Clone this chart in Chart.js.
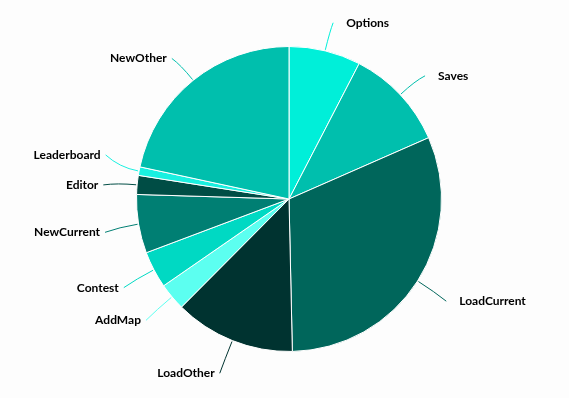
<!DOCTYPE html>
<html>
<head>
<meta charset="utf-8">
<script src="https://cdn.jsdelivr.net/npm/chart.js@4/dist/chart.umd.min.js"></script>
<style>
  html, body { margin: 0; padding: 0; background: #fdfdfd; }
  #wrap { width: 569px; height: 398px; position: relative; }
</style>
</head>
<body>
<div id="wrap"><canvas id="pieChart"></canvas></div>
<script>
// slices, clockwise from 12 o'clock
const categories = ["Options", "Saves", "LoadCurrent", "LoadOther", "AddMap", "Contest", "NewCurrent", "Editor", "Leaderboard", "NewOther"];
const values = [76, 108, 312, 128, 29, 39, 62, 20, 9, 216];
const colors = ["#00efd9", "#00bfad", "#00665b", "#003330", "#5cfff0", "#00d9c3", "#007f73", "#004d45", "#1af0e0", "#00bfad"];

// labels outside with curved leader lines (amCharts look)
const outLabels = {
  id: "outLabels",
  afterDatasetsDraw(chart) {
    const ctx = chart.ctx;
    const meta = chart.getDatasetMeta(0);
    const gap = 30; // min vertical distance between labels on a side
    let items = meta.data.map((arc, i) => {
      const mid = (arc.startAngle + arc.endAngle) / 2;
      const r = arc.outerRadius;
      return {
        i: i, arc: arc, mid: mid,
        right: Math.cos(mid) >= 0,
        y: arc.y + 3 + Math.sin(mid) * (r + 32)
      };
    });
    // push overlapping labels apart (upwards), per side
    [true, false].forEach(side => {
      const list = items.filter(it => it.right === side).sort((a, b) => b.y - a.y);
      for (let k = 1; k < list.length; k++) {
        if (list[k - 1].y - list[k].y < gap) list[k].y = list[k - 1].y - gap;
      }
    });

    ctx.save();
    ctx.font = "bold 12px Lato";
    ctx.textBaseline = "middle";
    items.forEach(it => {
      const arc = it.arc, r = arc.outerRadius;
      const cos = Math.cos(it.mid), sin = Math.sin(it.mid);
      const x0 = arc.x + cos * (r + 1), y0 = arc.y + sin * (r + 1);
      const xc = arc.x + cos * (r + 20), yc = arc.y + sin * (r + 20);
      const ex = arc.x + cos * (r + 34);
      ctx.strokeStyle = colors[it.i];
      ctx.lineWidth = 1;
      ctx.beginPath();
      ctx.moveTo(x0, y0);
      ctx.quadraticCurveTo(xc, yc, ex, it.y);
      ctx.stroke();
      ctx.fillStyle = "#000";
      ctx.textAlign = it.right ? "left" : "right";
      ctx.fillText(categories[it.i], ex + (it.right ? 13 : -5), it.y);
    });
    ctx.restore();
  }
};

new Chart(document.getElementById("pieChart"), {
  type: "pie",
  data: {
    labels: categories,
    datasets: [{
      data: values,
      backgroundColor: colors,
      borderColor: "#ffffff",
      borderWidth: 1
    }]
  },
  options: {
    responsive: true,
    maintainAspectRatio: false,
    animation: false,
    layout: { padding: { top: 46, bottom: 46, left: 9, right: 0 } },
    plugins: {
      legend: { display: false },
      tooltip: { enabled: false }
    }
  },
  plugins: [outLabels]
});
</script>
</body>
</html>
